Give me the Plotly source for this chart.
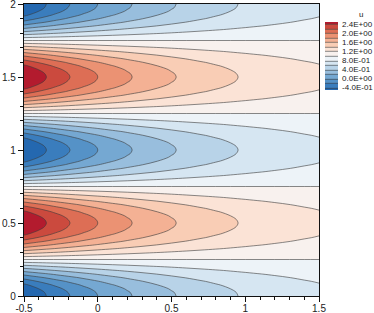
import numpy as np
import plotly.graph_objects as go

# streamwise positions and the decay of the disturbance read along x
x_pos = [-0.5, -0.4, -0.3, -0.2, -0.1, 0.0, 0.1, 0.2, 0.3, 0.4, 0.5,
         0.6, 0.7, 0.8, 0.9, 1.0, 1.1, 1.2, 1.3, 1.4, 1.5]
decay_x = [1.618, 1.470, 1.335, 1.213, 1.101, 1.000, 0.908, 0.825, 0.749, 0.680, 0.618,
           0.561, 0.509, 0.463, 0.420, 0.381, 0.346, 0.315, 0.286, 0.259, 0.236]

# transverse profile over one period (y = 0 ... 1, step 0.025)
profile_period = [1.0000, 0.9877, 0.9511, 0.8910, 0.8090, 0.7071, 0.5878, 0.4540, 0.3090, 0.1564,
                  0.0000, -0.1564, -0.3090, -0.4540, -0.5878, -0.7071, -0.8090, -0.8910, -0.9511, -0.9877,
                  -1.0000, -0.9877, -0.9511, -0.8910, -0.8090, -0.7071, -0.5878, -0.4540, -0.3090, -0.1564,
                  0.0000, 0.1564, 0.3090, 0.4540, 0.5878, 0.7071, 0.8090, 0.8910, 0.9511, 0.9877, 1.0000]

x_ticks = [-0.5, 0, 0.5, 1, 1.5]
x_ticktext = ["-0.5", "0", "0.5", "1", "1.5"]
y_ticks = [0, 0.5, 1, 1.5, 2]
y_ticktext = ["0", "0.5", "1", "1.5", "2"]
cb_ticks = [2.4, 2.0, 1.6, 1.2, 0.8, 0.4, 0.0, -0.4]
cb_ticktext = ["2.4E+00", "2.0E+00", "1.6E+00", "1.2E+00", "8.0E-01", "4.0E-01", "0.0E+00", "-4.0E-01"]

band_colors = ["#2468b0", "#3a7dbd", "#5592c7", "#75a8d2", "#98bedd", "#b8d3e8", "#d6e6f2", "#edf3f8",
               "#f8f1ee", "#fbe3d6", "#f9cdb5", "#f4b194", "#eb9273", "#dd6e55", "#cb4a3e", "#b31b2e"]

profile_full = profile_period + profile_period[1:]
y_pos = np.round(np.arange(len(profile_full)) * 0.025, 4)
z = 1 - np.outer(profile_full, decay_x)

n = len(band_colors)
colorscale = [[i / (n - 1), c] for i, c in enumerate(band_colors)]

L, R, T, B = 24, 55, 4, 17
PW, PH = 374 - L - R, 313 - T - B

fig = go.Figure(go.Contour(
    x=x_pos, y=y_pos, z=z,
    contours=dict(start=-0.4, end=2.4, size=0.2, coloring="fill"),
    line=dict(color="#3a3a3a", width=0.6),
    colorscale=colorscale,
    colorbar=dict(
        x=(325 - L) / PW, xanchor="left", y=(313 - B - 21.75) / PH, yanchor="top",
        len=68, lenmode="pixels", thickness=13, thicknessmode="pixels",
        xpad=0, ypad=0,
        outlinewidth=0, tickvals=cb_ticks, ticktext=cb_ticktext,
        ticks="outside", ticklen=3, tickcolor="rgba(0,0,0,0)",
        tickfont=dict(family="Liberation Sans, Arial", size=8, color="#222"),
    ),
))

fig.add_annotation(text="u", xref="paper", yref="paper",
                   x=(361 - L) / PW, y=(313 - B - 14) / PH, xanchor="center", yanchor="middle",
                   showarrow=False, borderpad=0,
                   font=dict(family="Liberation Sans, Arial", size=8, color="#222"))

axis_common = dict(
    showline=True, linecolor="#111", linewidth=1.2, mirror=True,
    ticks="outside", ticklen=5, tickwidth=1, tickcolor="#111",
    showgrid=False, zeroline=False, ticklabeloverflow="allow",
    tickfont=dict(family="Liberation Sans, Arial", size=10, color="#222"),
    minor=dict(ticks="outside", ticklen=3, tickwidth=1, tickcolor="#111", dtick=0.1, showgrid=False),
)

fig.update_xaxes(range=[-0.5, 1.5], tickvals=x_ticks, ticktext=x_ticktext, ticklabelstandoff=-2, **axis_common)
fig.update_yaxes(range=[0, 2], tickvals=y_ticks, ticktext=y_ticktext, **axis_common)

fig.update_layout(
    width=374, height=313,
    margin=dict(l=L, r=R, t=T, b=B, autoexpand=False),
    paper_bgcolor="white", plot_bgcolor="white",
    font=dict(family="Liberation Sans, Arial", size=10, color="#222"),
)

fig.write_html("out.html", config={"displayModeBar": False},
               post_script="document.body.style.margin='0';document.body.style.overflow='hidden';")
